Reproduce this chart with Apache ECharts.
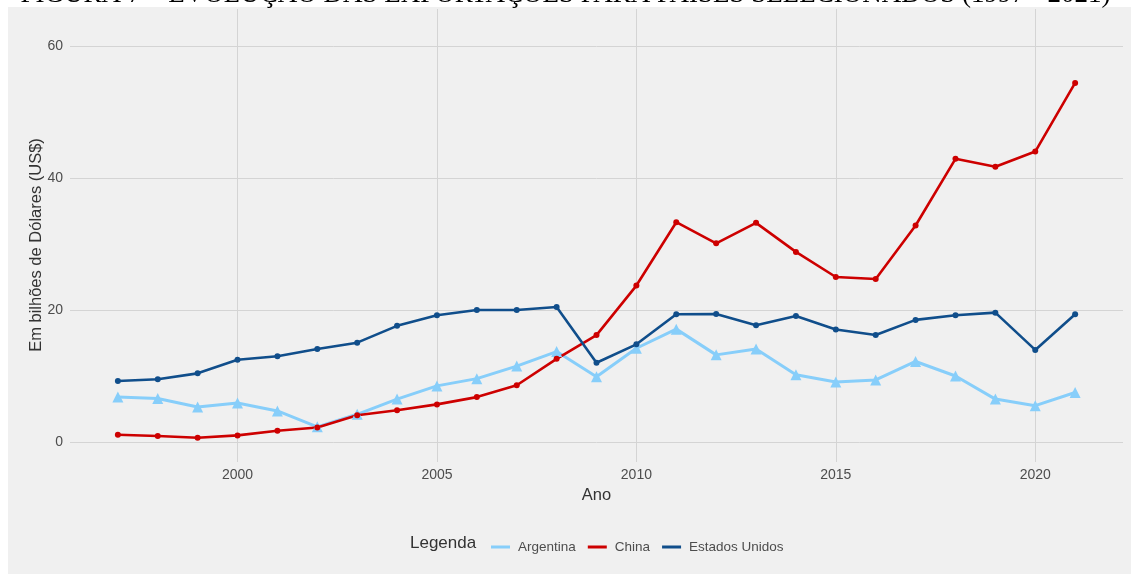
<!DOCTYPE html>
<html>
<head>
<meta charset="utf-8">
<script src="https://cdn.jsdelivr.net/npm/echarts@6/dist/echarts.min.js"></script>
<style>
  body { margin: 0; background: #fff; }
  #wrap { position: relative; width: 1131px; height: 575px; background: #fff; overflow: hidden; }
  #bg { position: absolute; left: 8px; top: 7px; width: 1123px; height: 567px; background: #f0f0f0; }
  #chart { position: absolute; left: 0; top: 0; width: 1131px; height: 575px; }
</style>
</head>
<body>
<div id="wrap">
  <div id="bg"></div>
  <div id="chart"></div>
</div>
<script>
const years = [1997, 1998, 1999, 2000, 2001, 2002, 2003, 2004, 2005, 2006, 2007, 2008, 2009,
  2010, 2011, 2012, 2013, 2014, 2015, 2016, 2017, 2018, 2019, 2020, 2021];

const argentina = [6.8, 6.6, 5.3, 5.9, 4.7, 2.3, 4.2, 6.5, 8.5, 9.6, 11.5, 13.7, 9.9,
  14.2, 17.1, 13.2, 14.1, 10.2, 9.1, 9.4, 12.2, 10.0, 6.5, 5.5, 7.5];

const china = [1.1, 0.9, 0.65, 1.0, 1.7, 2.2, 4.05, 4.8, 5.7, 6.8, 8.6, 12.6, 16.2,
  23.7, 33.3, 30.1, 33.2, 28.8, 25.0, 24.7, 32.8, 42.9, 41.7, 44.0, 54.4];

const eua = [9.25, 9.5, 10.4, 12.45, 13.0, 14.1, 15.05, 17.6, 19.2, 20.0, 20.0, 20.45, 12.0,
  14.8, 19.35, 19.4, 17.7, 19.1, 17.05, 16.2, 18.5, 19.2, 19.6, 13.95, 19.35];

const xTicks = [2000, 2005, 2010, 2015, 2020];
const yTicks = [0, 20, 40, 60];

const pair = (vals) => years.map((y, i) => [y, vals[i]]);

const chart = echarts.init(document.getElementById('chart'), null, { renderer: 'canvas' });

const font = '"Liberation Sans", Arial, sans-serif';

const option = {
  backgroundColor: 'transparent',
  animation: false,
  textStyle: { fontFamily: font },
  grid: { left: 70, right: 8, top: 9, bottom: 113 },
  graphic: [
    {
      type: 'text',
      left: 'center',
      top: -19,
      style: {
        text: 'FIGURA 7 – EVOLUÇÃO DAS EXPORTAÇÕES PARA PAÍSES SELECIONADOS (1997 - 2021)',
        font: '27px "Liberation Serif", "Times New Roman", serif',
        fill: '#000'
      }
    },
    {
      type: 'text',
      x: 36,
      y: 245,
      rotation: Math.PI / 2,
      style: {
        text: 'Em bilhões de Dólares (US$)',
        font: '16.5px ' + font,
        fill: '#333',
        align: 'center',
        verticalAlign: 'middle'
      }
    },
    {
      type: 'text',
      x: 410,
      y: 543,
      style: {
        text: 'Legenda',
        font: '17px ' + font,
        fill: '#333',
        align: 'left',
        verticalAlign: 'middle'
      }
    }
  ],
  legend: {
    left: 486,
    top: 535,
    icon: 'rect',
    itemWidth: 19,
    itemHeight: 3,
    itemGap: 12,
    textStyle: { color: '#4d4d4d', fontSize: 13.5, fontFamily: font, padding: [0, 0, 0, 3] },
    data: ['Argentina', 'China', 'Estados Unidos']
  },
  xAxis: {
    type: 'value',
    min: 1995.8,
    max: 2022.2,
    name: 'Ano',
    nameLocation: 'middle',
    nameGap: 25,
    nameTextStyle: { color: '#333', fontSize: 16.5, fontFamily: font },
    axisLine: { show: false },
    axisTick: { show: false, customValues: xTicks },
    axisLabel: { customValues: xTicks, color: '#4d4d4d', fontSize: 14, margin: 6, formatter: (v) => String(v) },
    splitLine: { show: true, lineStyle: { color: '#d4d4d4', width: 1 } }
  },
  yAxis: {
    type: 'value',
    min: -3.03,
    max: 65.6,
    axisLine: { show: false },
    axisTick: { show: false, customValues: yTicks },
    axisLabel: { customValues: yTicks, color: '#4d4d4d', fontSize: 14, margin: 7 },
    splitLine: { show: true, lineStyle: { color: '#d4d4d4', width: 1 } }
  },
  series: [
    {
      name: 'Argentina',
      type: 'line',
      data: pair(argentina),
      symbol: 'triangle',
      symbolSize: 11,
      lineStyle: { color: '#87cefa', width: 3 },
      itemStyle: { color: '#87cefa' }
    },
    {
      name: 'China',
      type: 'line',
      data: pair(china),
      symbol: 'circle',
      symbolSize: 6,
      lineStyle: { color: '#cd0000', width: 2.6 },
      itemStyle: { color: '#cd0000' }
    },
    {
      name: 'Estados Unidos',
      type: 'line',
      data: pair(eua),
      symbol: 'circle',
      symbolSize: 6,
      lineStyle: { color: '#104e8b', width: 2.6 },
      itemStyle: { color: '#104e8b' }
    }
  ]
};

chart.setOption(option);
</script>
</body>
</html>
